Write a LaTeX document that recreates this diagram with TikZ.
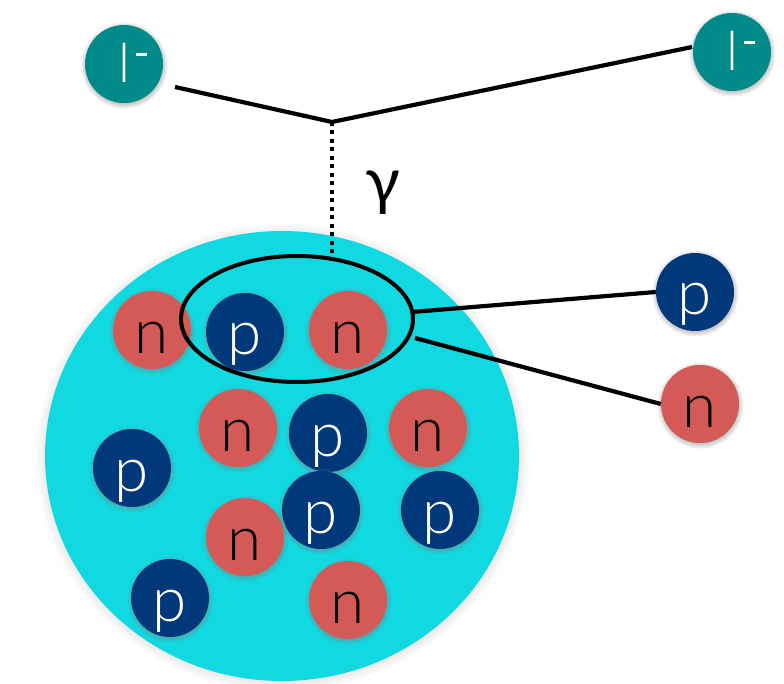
\documentclass[tikz,border=0pt]{standalone}
\usepackage{fontspec}
\setmainfont{Lato}[UprightFont=* Light]
\newfontfamily\gfont{Lato}
\usetikzlibrary{shadows,shapes.geometric}
\definecolor{nuc}{HTML}{10D9E1}
\definecolor{lep}{HTML}{008A8A}
\definecolor{neu}{HTML}{D35A56}
\definecolor{pro}{HTML}{00387A}
\tikzset{
  part/.style={circle, minimum size=78pt, inner sep=0pt, text height=46pt, text depth=0pt,
     font=\fontsize{62}{62}\selectfont,
     circular drop shadow={shadow xshift=0pt, shadow yshift=-1pt, shadow scale=1.12, opacity=0.5}},
  neutron/.style={part, fill=neu, text=black},
  proton/.style={part, fill=pro, text=white},
  lepton/.style={circle, minimum size=78pt, inner sep=0pt, fill=lep, text=white,
     text height=38pt, text depth=0pt,
     font=\fontsize{54}{54}\selectfont,
     circular drop shadow={shadow xshift=0pt, shadow yshift=-1pt, shadow scale=1.12, opacity=0.5}},
  wire/.style={line width=4.2pt, black},
}
\newcommand\lminus{l\rlap{\hspace{6pt}\raisebox{27pt}{\rule{11pt}{3pt}}}}
\begin{document}
\begin{tikzpicture}[x=1pt,y=-1pt]
\useasboundingbox (0,0) rectangle (784,684);
% nucleus
\node (nucleus) [ellipse, minimum width=474pt, minimum height=450pt, inner sep=0pt, fill=nuc,
   circular drop shadow={shadow xshift=0pt, shadow yshift=-1pt, shadow scale=1.04, opacity=0.55}] at (282,456) {};
% leptons
\node (l1) [lepton] at (124,64) {\lminus};
\node (l2) [lepton] at (732,52) {\lminus};
\coordinate (v) at (332,122);
\coordinate (l1e) at (175,87);
\coordinate (l2e) at (692,47);
\draw[wire] (l1e) -- (v) -- (l2e);
\coordinate (g) at (332,253);
\draw[line width=4pt, dash pattern=on 4pt off 4.5pt] (v) -- (g);
\node (gamma) at (383,193) {\gfont\fontsize{64}{64}\selectfont γ};
% nucleons
\node (n1) [neutron] at (152,330) {n};
\node (p1) [proton] at (245,332) {p};
\node (n2) [neutron] at (348,330) {n};
\node (n3) [neutron] at (238,428) {n};
\node (p2) [proton] at (328,433) {p};
\node (n4) [neutron] at (428,428) {n};
\node (p3) [proton] at (132,468) {p};
\node (p4) [proton] at (321,510) {p};
\node (p5) [proton] at (440,510) {p};
\node (n5) [neutron] at (245,537) {n};
\node (p6) [proton] at (170,598) {p};
\node (n6) [neutron] at (348,600) {n};
% pair ellipse
\node (pair) [ellipse, draw, line width=4pt, minimum width=232pt, minimum height=126pt, inner sep=0pt] at (297,319) {};
% knocked-out nucleons
\node (pout) [proton] at (695,292) {p};
\node (nout) [neutron] at (700,404) {n};
\coordinate (e1) at (412,312);
\coordinate (e2) at (415,338);
\draw[wire] (e1) -- (pout.west);
\draw[wire] (e2) -- (nout.west);
\end{tikzpicture}
\end{document}
